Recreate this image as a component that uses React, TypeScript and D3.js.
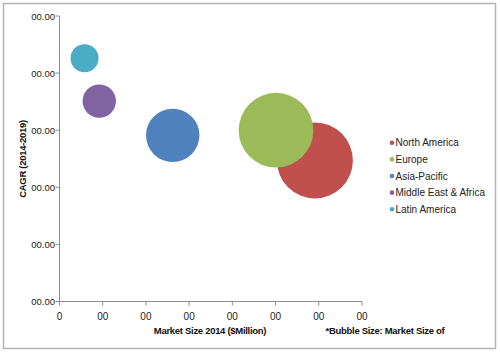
import React from "react";
import * as d3 from "d3";

const regions = ["North America", "Europe", "Asia-Pacific", "Middle East & Africa", "Latin America"];
const marketSize2014 = [591, 501, 262, 92, 58];
const cagr = [24.7, 30.0, 29.1, 35.1, 42.6];
const bubbleSize = [1000, 965, 494, 193, 136];
const colors = ["#C0504D", "#9BBB59", "#4F81BD", "#8064A2", "#4BACC6"];

const xTickValues = [0, 100, 200, 300, 400, 500, 600, 700];
const xTickLabels = ["0", "00", "00", "00", "00", "00", "00", "00"];
const yTickValues = [0, 10, 20, 30, 40, 50];
const yTickLabels = ["00.00", "00.00", "00.00", "00.00", "00.00", "00.00"];

const W = 500;
const H = 353;
const FONT = "'Liberation Sans', Arial, sans-serif";

export default function App() {
  const x = d3.scaleLinear().domain([0, 700]).range([59.5, 362]);
  const y = d3.scaleLinear().domain([0, 50]).range([301.5, 16]);
  const r = d3.scaleSqrt().domain([0, 1000]).range([0, 38]);
  const axisColor = "#8c8c8c";

  const data = regions.map((name, i) => ({
    name,
    x: marketSize2014[i],
    y: cagr[i],
    s: bubbleSize[i],
    c: colors[i],
  }));

  return (
    <div style={{ position: "fixed", left: 0, top: 0 }}>
      <svg width={W} height={H} style={{ display: "block", background: "#fff" }}>
        <rect x={3.5} y={3.5} width={492} height={345} fill="#fff" stroke="#b4b4b4" strokeWidth={1.5} />
        {/* axes */}
        <line x1={x(0)} x2={x(0)} y1={y(50)} y2={y(0)} stroke={axisColor} strokeWidth={1} />
        <line x1={x(0)} x2={x(700)} y1={y(0)} y2={y(0)} stroke={axisColor} strokeWidth={1} />
        {yTickValues.map((v, i) => (
          <g key={"yt" + i}>
            <line x1={x(0) - 4} x2={x(0)} y1={y(v)} y2={y(v)} stroke={axisColor} />
            <text
              x={55}
              y={y(v) + 3.5}
              textAnchor="end"
              fontFamily={FONT}
              fontSize={9.5}
              fill="#222"
            >
              {yTickLabels[i]}
            </text>
          </g>
        ))}
        {xTickValues.map((v, i) => (
          <g key={"xt" + i}>
            <line x1={x(v)} x2={x(v)} y1={y(0)} y2={y(0) + 4} stroke={axisColor} />
            <text
              x={x(v)}
              y={319.5}
              textAnchor="middle"
              fontFamily={FONT}
              fontSize={10}
              fill="#222"
            >
              {xTickLabels[i]}
            </text>
          </g>
        ))}
        {/* bubbles */}
        {data.map((d) => (
          <circle key={d.name} cx={x(d.x)} cy={y(d.y)} r={r(d.s)} fill={d.c} />
        ))}
        {/* titles */}
        <text
          transform="translate(25.5,159) rotate(-90)"
          textAnchor="middle"
          fontFamily={FONT}
          fontSize={9.5}
          fontWeight="bold"
          letterSpacing={-0.3}
          fill="#111"
        >
          CAGR (2014-2019)
        </text>
        <text
          x={210}
          y={333.5}
          textAnchor="middle"
          fontFamily={FONT}
          fontSize={9.5}
          fontWeight="bold"
          letterSpacing={-0.3}
          fill="#111"
        >
          Market Size 2014 ($Million)
        </text>
        <text
          x={385}
          y={333.5}
          textAnchor="middle"
          fontFamily={FONT}
          fontSize={9.5}
          fontWeight="bold"
          letterSpacing={-0.3}
          fill="#111"
        >
          *Bubble Size: Market Size of
        </text>
        {/* legend */}
        {data.map((d, i) => (
          <g key={"lg" + i} transform={`translate(392, ${142.7 + i * 16.65})`}>
            <circle cx={0} cy={0} r={2.3} fill={d.c} />
            <text x={3.5} y={3.5} fontFamily={FONT} fontSize={10} fill="#222">
              {d.name}
            </text>
          </g>
        ))}
      </svg>
    </div>
  );
}
